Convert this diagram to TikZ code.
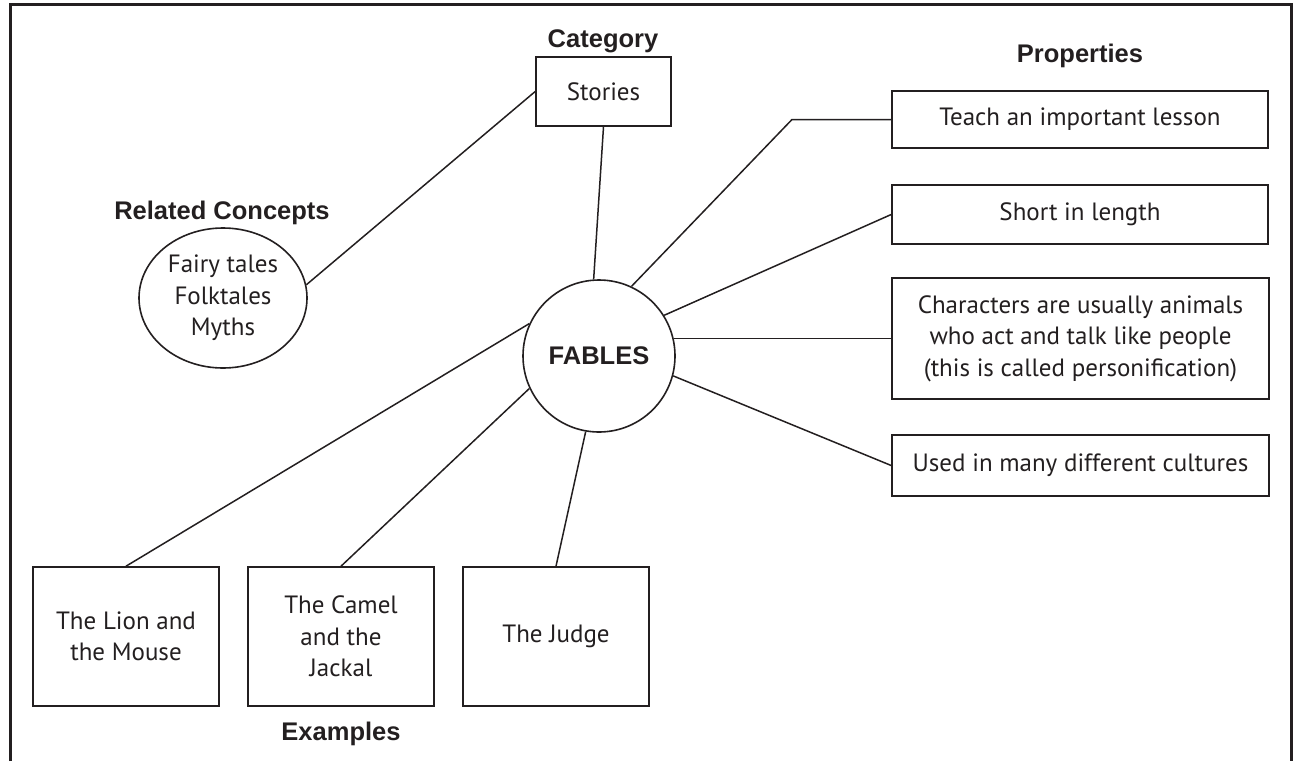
\documentclass[tikz,border=0pt]{standalone}
\usepackage{fontspec}
\setmainfont{Liberation Sans}
\newfontfamily\hand{PT Sans}
\usetikzlibrary{shapes.geometric}
\definecolor{ink}{HTML}{231F20}
\begin{document}
\begin{tikzpicture}[x=1pt,y=-1pt,
  hbox/.style={draw=ink,line width=1.6pt,align=center,inner sep=0pt,
    font=\hand\fontsize{25}{31.5}\selectfont,text=ink},
  lbl/.style={font=\bfseries\fontsize{25.5}{28}\selectfont,text=ink,anchor=base},
  link/.style={draw=ink,line width=1.5pt}]
\useasboundingbox (0,0) rectangle (1293,761);
% frame
\draw[ink,line width=3pt] (10,761) -- (10,4) -- (1291,4) -- (1291,761);
% labels
\node[lbl] (lcat) at (603,47) {Category};
\node[lbl] (lprop) at (1080,62) {Properties};
\node[lbl] (lrel) at (222,219) {Related Concepts};
\node[lbl] (lex) at (341,740) {Examples};
% central
\node[draw=ink,line width=1.6pt,circle,minimum size=152pt,inner sep=0pt,
  font=\bfseries\fontsize{25.5}{28}\selectfont,text=ink] (fables) at (599,356) {FABLES};
% boxes
\node[hbox,minimum width=135pt,minimum height=69pt] (stories) at (603.5,91.5) {Stories};
\node[hbox,minimum width=376pt,minimum height=57pt] (teach) at (1080,119.5) {Teach an important lesson};
\node[hbox,minimum width=376pt,minimum height=59pt] (short) at (1080,214.5) {Short in length};
\node[hbox,minimum width=377pt,minimum height=121pt] (chars) at (1080.5,338.5) {Characters are usually animals\\who act and talk like people\\(this is called personification)};
\node[hbox,minimum width=377pt,minimum height=61pt] (used) at (1080.5,465.5) {Used in many different cultures};
\node[hbox,minimum width=186pt,minimum height=139pt] (lion) at (126,636.5) {The Lion and\\the Mouse};
\node[hbox,minimum width=186pt,minimum height=139pt] (camel) at (341,636.5) {The Camel\\and the\\Jackal};
\node[hbox,minimum width=186pt,minimum height=139pt] (judge) at (556,636.5) {The Judge};
\node[hbox,ellipse,minimum width=168pt,minimum height=140pt] (rel) at (223,298) {Fairy tales\\Folktales\\Myths};
% connectors
\coordinate (elbow) at (792,119.5);
\draw[link] (stories.south) -- (fables.94);
\draw[link] (fables.65) -- (elbow) -- (teach.west);
\draw[link] (fables.32) -- (short.west);
\draw[link] (fables.13.7) -- (fables.13.7 -| chars.west);
\draw[link] (fables.-15) -- (used.west);
\draw[link] (fables.155) -- (lion.north);
\draw[link] (fables.205) -- (camel.north);
\draw[link] (fables.260) -- (judge.north);
\draw[link] (rel.9) -- (stories.west);
\end{tikzpicture}
\end{document}
